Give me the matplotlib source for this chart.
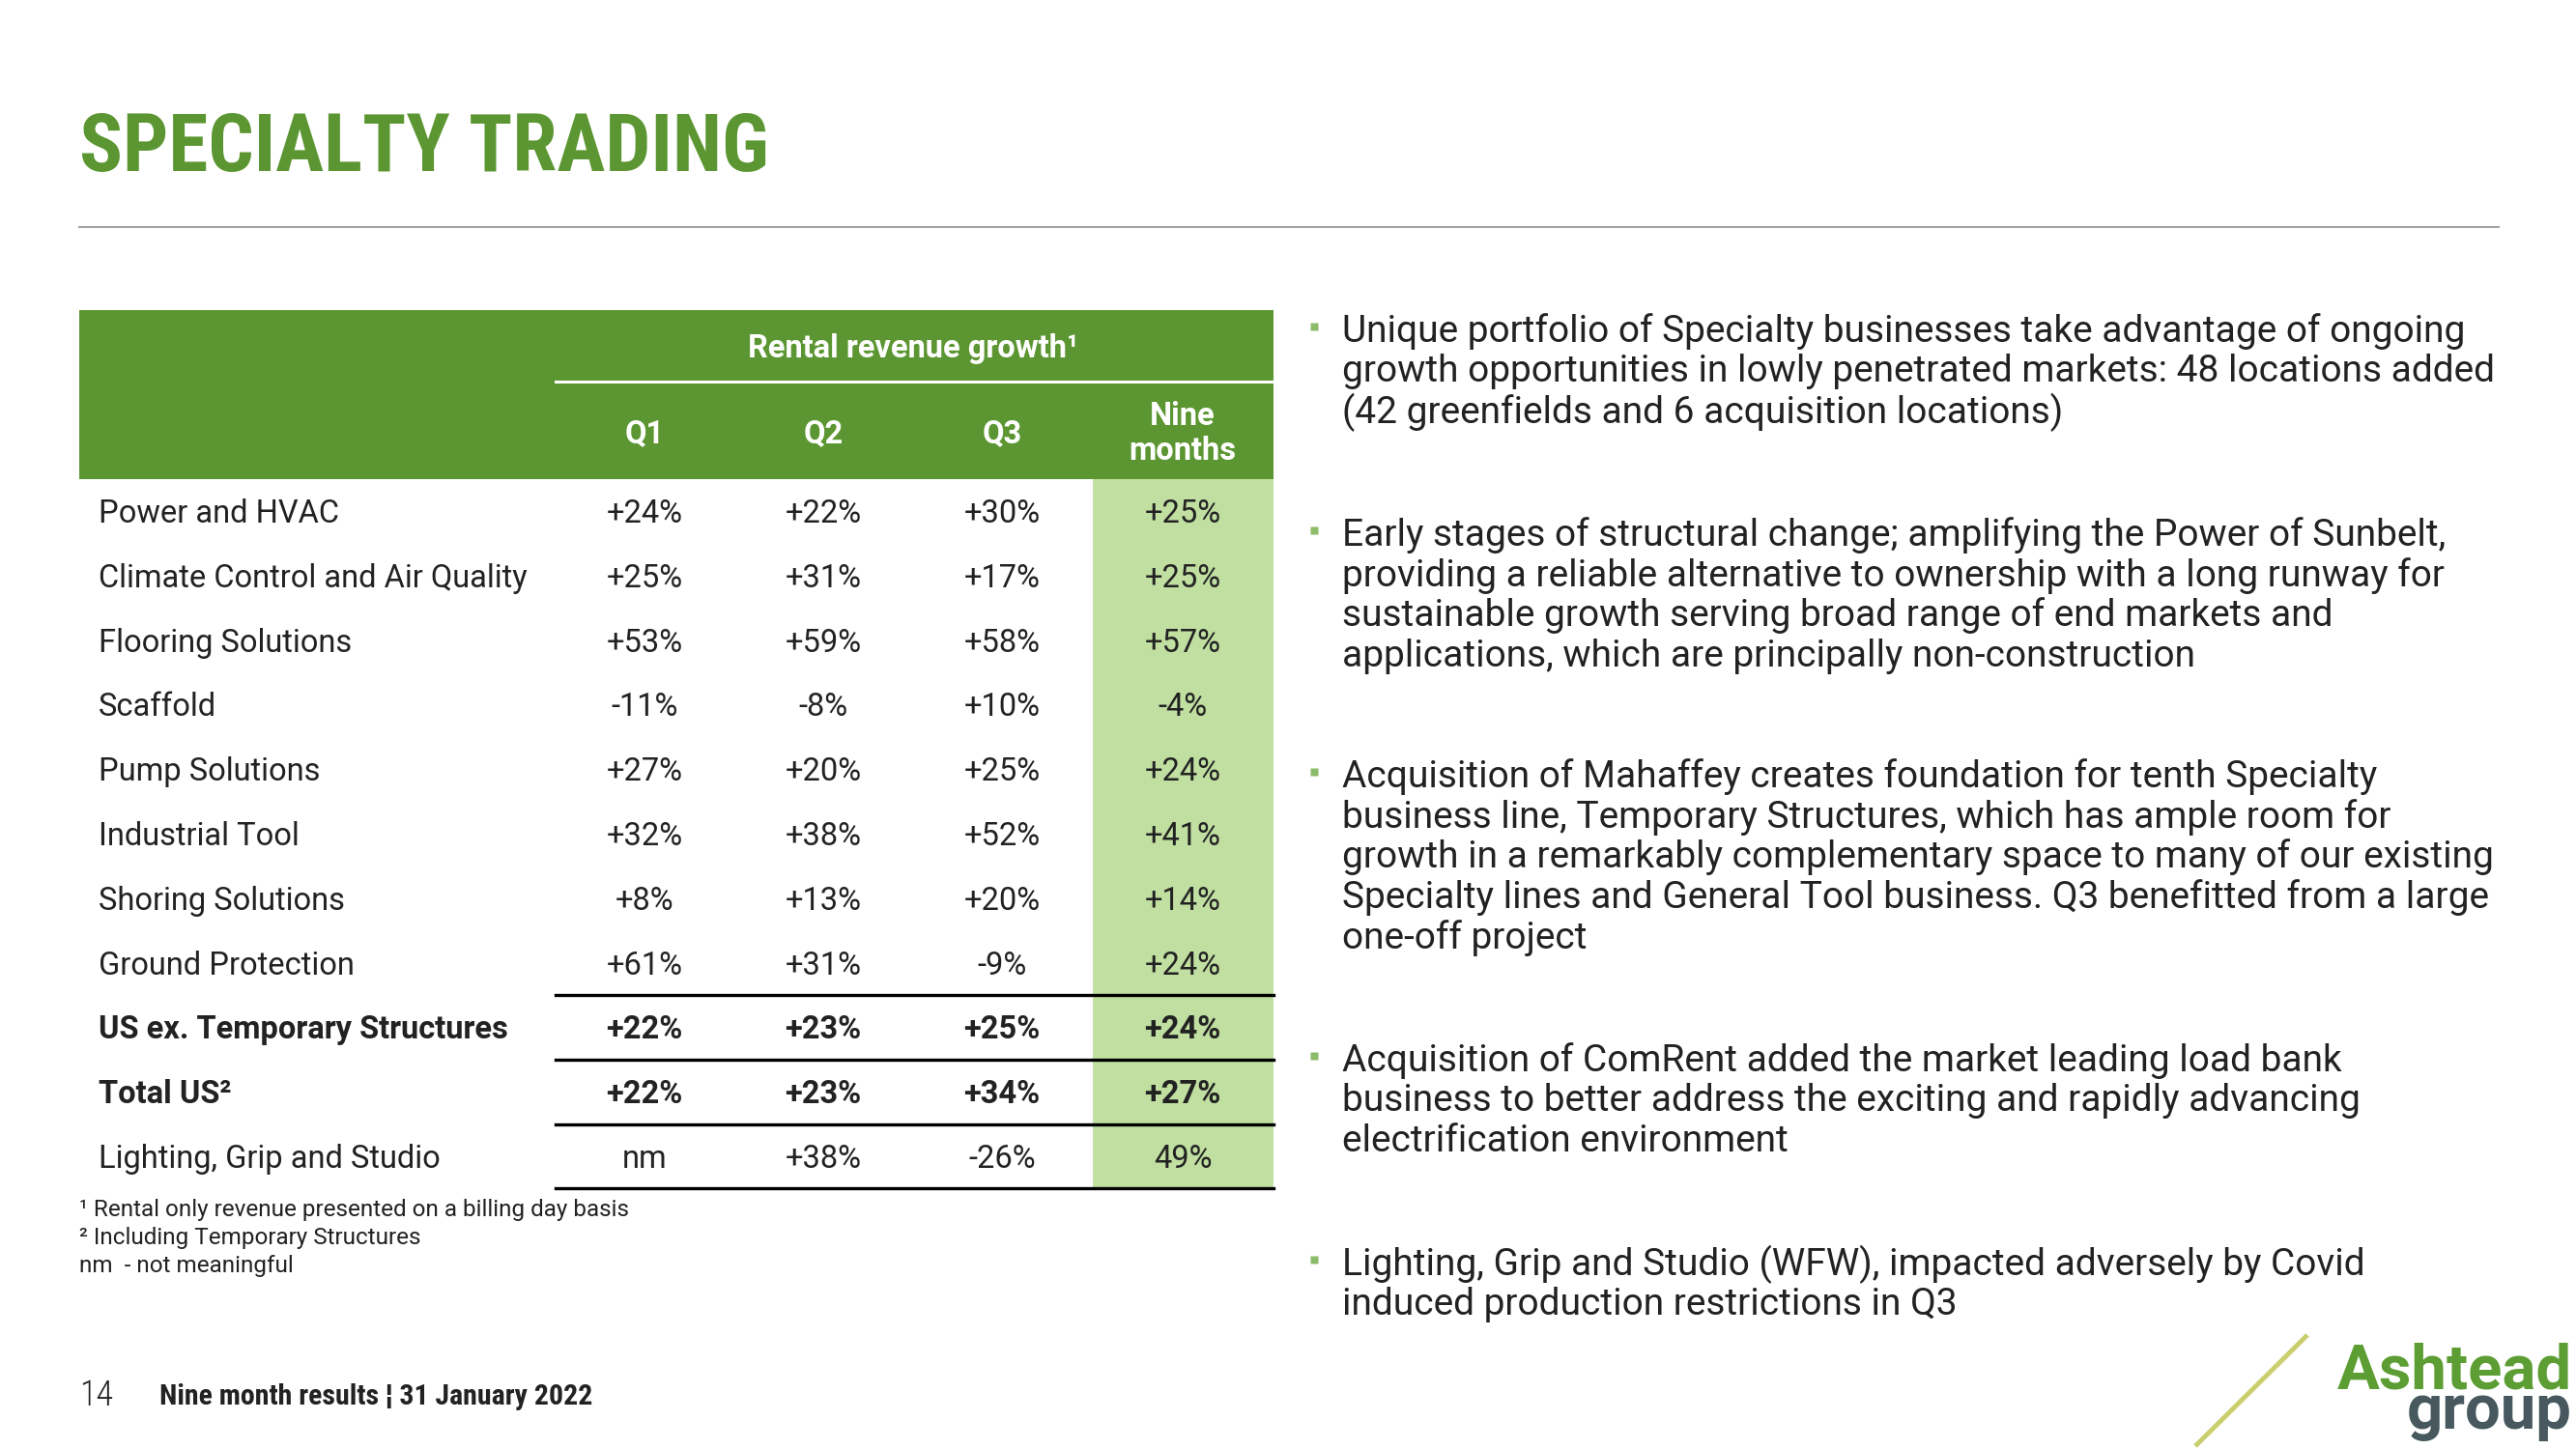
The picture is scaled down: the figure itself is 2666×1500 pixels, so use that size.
"""Specialty trading slide: rental revenue growth table plus commentary bullets."""
import matplotlib.pyplot as plt
from matplotlib.patches import Rectangle

# Data #######################################################################

categories = ["Power and HVAC", "Climate Control and Air Quality", "Flooring Solutions",
              "Scaffold", "Pump Solutions", "Industrial Tool", "Shoring Solutions",
              "Ground Protection", "US ex. Temporary Structures", "Total US\u00b2",
              "Lighting, Grip and Studio"]
q1 = ["+24%", "+25%", "+53%", "-11%", "+27%", "+32%", "+8%", "+61%", "+22%", "+22%", "nm"]
q2 = ["+22%", "+31%", "+59%", "-8%", "+20%", "+38%", "+13%", "+31%", "+23%", "+23%", "+38%"]
q3 = ["+30%", "+17%", "+58%", "+10%", "+25%", "+52%", "+20%", "-9%", "+25%", "+34%", "-26%"]
nine_months = ["+25%", "+25%", "+57%", "-4%", "+24%", "+41%", "+14%", "+24%", "+24%", "+27%", "49%"]
bold_rows = ["US ex. Temporary Structures", "Total US\u00b2"]
col_headers = ["Q1", "Q2", "Q3", "Nine\nmonths"]

footnotes = ["\u00b9 Rental only revenue presented on a billing day basis",
             "\u00b2 Including Temporary Structures",
             "nm  - not meaningful"]

bullets = [
    ["Unique portfolio of Specialty businesses take advantage of ongoing",
     "growth opportunities in lowly penetrated markets: 48 locations added",
     "(42 greenfields and 6 acquisition locations)"],
    ["Early stages of structural change; amplifying the Power of Sunbelt,",
     "providing a reliable alternative to ownership with a long runway for",
     "sustainable growth serving broad range of end markets and",
     "applications, which are principally non-construction"],
    ["Acquisition of Mahaffey creates foundation for tenth Specialty",
     "business line, Temporary Structures, which has ample room for",
     "growth in a remarkably complementary space to many of our existing",
     "Specialty lines and General Tool business. Q3 benefitted from a large",
     "one-off project"],
    ["Acquisition of ComRent added the market leading load bank",
     "business to better address the exciting and rapidly advancing",
     "electrification environment"],
    ["Lighting, Grip and Studio (WFW), impacted adversely by Covid",
     "induced production restrictions in Q3"],
]

# Style ######################################################################

GREEN = "#5c9632"
LIGHT_GREEN = "#c0dfa1"
TEXT = "#222222"
plt.rcParams["font.family"] = ["Roboto", "DejaVu Sans"]
COND = ["Roboto Condensed", "Liberation Sans Narrow", "Roboto", "DejaVu Sans"]

fig = plt.figure(figsize=(26.66, 15), dpi=100)
ax = fig.add_axes([0, 0, 1, 1])
ax.set_xlim(0, 2666)
ax.set_ylim(1500, 0)
ax.axis("off")

# Title + rule
ax.text(82, 155, "SPECIALTY TRADING", fontsize=60, fontweight="bold", color=GREEN,
        family=COND, va="center", ha="left")
ax.plot([82, 2586], [235, 235], color="#a6a6a6", lw=1.5)

# Table ######################################################################
x_left, x_right = 82, 1318
x_cols = [667, 852, 1037, 1224]
x_label = 102
row0, row_h = 529, 66.8
rows_y = [row0 + i * row_h for i in range(len(categories))]
head_top, head_bot = 321, rows_y[0] - row_h / 2
FS = 23.5

ax.add_patch(Rectangle((x_left, head_top), x_right - x_left, head_bot - head_top,
                       color=GREEN, lw=0))
ax.add_patch(Rectangle((1131, head_bot), x_right - 1131, rows_y[-1] + row_h / 2 - head_bot,
                       color=LIGHT_GREEN, lw=0))
ax.text(945, 361, "Rental revenue growth\u00b9", color="white", fontsize=FS,
        fontweight="bold", ha="center", va="center")
ax.plot([575, x_right], [395, 395], color="white", lw=2.2)
for xc, h in zip(x_cols, col_headers):
    ax.text(xc, 449, h, color="white", fontsize=FS, fontweight="bold",
            ha="center", va="center", linespacing=1.2)

for i, cat in enumerate(categories):
    y = rows_y[i] + 3
    w = "bold" if cat in bold_rows else "normal"
    ax.text(x_label, y, cat, fontsize=FS, fontweight=w, color=TEXT, ha="left", va="center")
    for xc, vals in zip(x_cols, [q1, q2, q3, nine_months]):
        ax.text(xc, y, vals[i], fontsize=FS, fontweight=w, color=TEXT,
                ha="center", va="center")

# black separators above the summary rows and under the table
for i in [8, 9, 10, 11]:
    yl = row0 + (i - 0.5) * row_h
    ax.plot([575, x_right], [yl, yl], color="black", lw=2.4)

for j, note in enumerate(footnotes):
    ax.text(82, 1252 + j * 29.5, note, fontsize=17.5, color=TEXT, ha="left", va="center")

# Bullets ####################################################################
bullet_y = [343, 554, 804, 1098, 1309]
line_h = 41.7
for y0, lines in zip(bullet_y, bullets):
    ax.plot(1360, y0 - 5, marker="s", markersize=6, color="#8cbb6a", mec="none")
    for k, line in enumerate(lines):
        ax.text(1389, y0 + k * line_h, line, fontsize=28, color=TEXT,
                ha="left", va="center")

# Footer #####################################################################
ax.text(82, 1445, "14", fontsize=26, fontweight="light", color="#222222",
        family=COND, ha="left", va="center")
ax.text(165, 1446, "Nine month results \u00a6 31 January 2022", fontsize=21.5,
        fontweight="bold", color=TEXT, family=COND, ha="left", va="center")

# Logo
ax.plot([2272, 2388], [1497, 1382], color="#c9cf6c", lw=3.5, solid_capstyle="butt")
ax.text(2662, 1437, "Ashtead", fontsize=47, fontweight="bold", color="#5c9e33",
        ha="right", va="baseline")
ax.text(2662, 1479, "group", fontsize=47, fontweight="bold", color="#47595e",
        ha="right", va="baseline")

fig.savefig("out.png", dpi=100)
